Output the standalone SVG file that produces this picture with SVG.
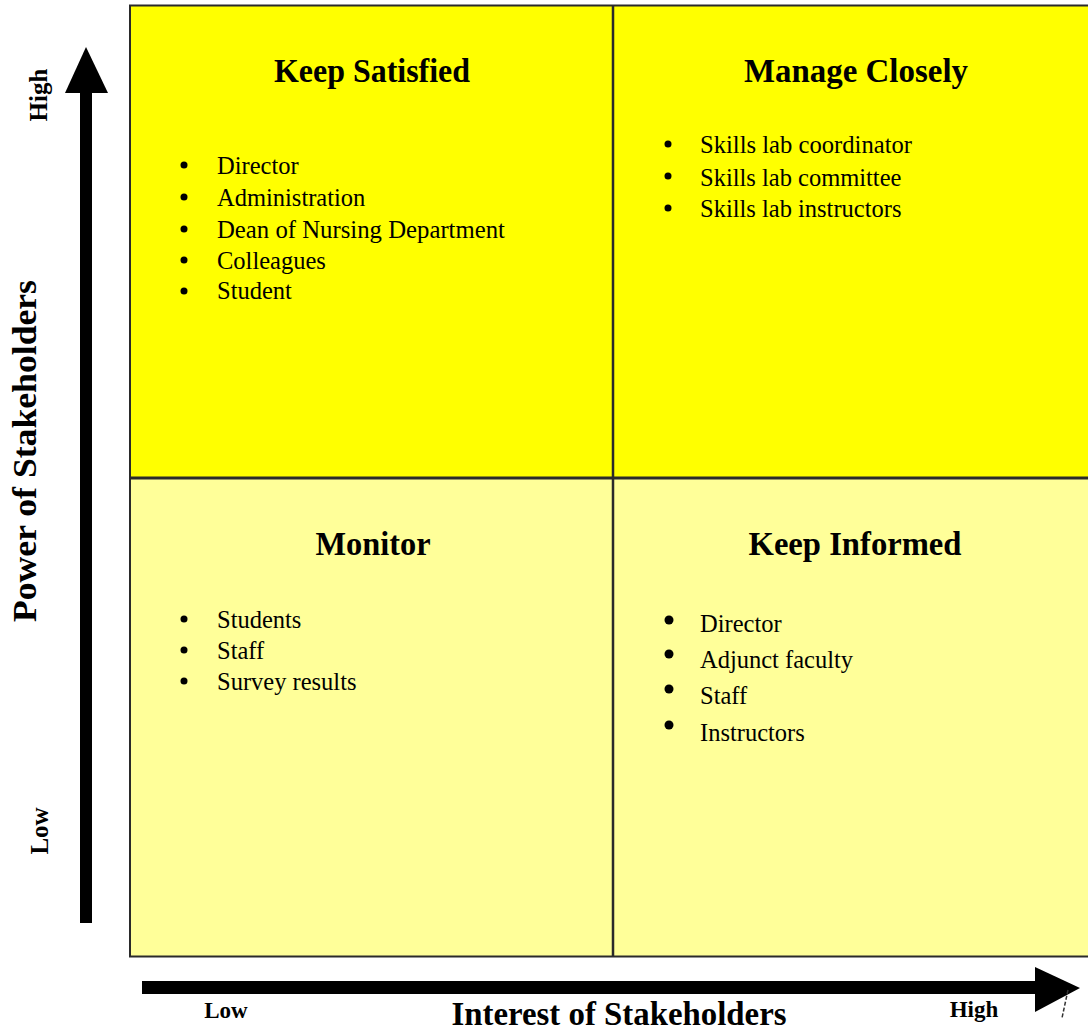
<svg xmlns="http://www.w3.org/2000/svg" width="1088" height="1034" viewBox="0 0 1088 1034">
<style>
text { font-family: "Liberation Serif", "Times New Roman", serif; fill: #000; }
.title { font-size: 33px; font-weight: bold; text-anchor: middle; }
.item { font-size: 24.5px; }
.axis { font-size: 33px; font-weight: bold; }
.tick { font-size: 25px; font-weight: bold; }
.hi { fill: #FFFF00; }
.lo { fill: #FFFF99; }
.bul { fill: #000; }
</style>
<rect width="1088" height="1034" fill="#fff"/>

<g id="keep-satisfied">
  <rect class="hi" x="130" y="5" width="483" height="473"/>
  <text class="title" x="372" y="82" textLength="196" lengthAdjust="spacingAndGlyphs">Keep Satisfied</text>
  <circle class="bul" cx="184" cy="165" r="3.5"/>
  <circle class="bul" cx="184" cy="197" r="3.5"/>
  <circle class="bul" cx="184" cy="229" r="3.5"/>
  <circle class="bul" cx="184" cy="260" r="3.5"/>
  <circle class="bul" cx="184" cy="291" r="3.5"/>
  <text class="item" x="217" y="174">Director</text>
  <text class="item" x="217" y="206">Administration</text>
  <text class="item" x="217" y="238" textLength="288" lengthAdjust="spacingAndGlyphs">Dean of Nursing Department</text>
  <text class="item" x="217" y="269">Colleagues</text>
  <text class="item" x="217" y="299">Student</text>
</g>

<g id="manage-closely">
  <rect class="hi" x="613" y="5" width="490" height="473"/>
  <text class="title" x="856" y="82" textLength="224" lengthAdjust="spacingAndGlyphs">Manage Closely</text>
  <circle class="bul" cx="668" cy="144" r="3.5"/>
  <circle class="bul" cx="668" cy="176" r="3.5"/>
  <circle class="bul" cx="668" cy="208" r="3.5"/>
  <text class="item" x="700" y="153" textLength="212" lengthAdjust="spacingAndGlyphs">Skills lab coordinator</text>
  <text class="item" x="700" y="186">Skills lab committee</text>
  <text class="item" x="700" y="217">Skills lab instructors</text>
</g>

<g id="monitor">
  <rect class="lo" x="130" y="478" width="483" height="479"/>
  <text class="title" x="373" y="555" textLength="115" lengthAdjust="spacingAndGlyphs">Monitor</text>
  <circle class="bul" cx="184" cy="619" r="3.5"/>
  <circle class="bul" cx="184" cy="650" r="3.5"/>
  <circle class="bul" cx="184" cy="681" r="3.5"/>
  <text class="item" x="217" y="628">Students</text>
  <text class="item" x="217" y="659">Staff</text>
  <text class="item" x="217" y="690">Survey results</text>
</g>

<g id="keep-informed">
  <rect class="lo" x="613" y="478" width="490" height="479"/>
  <text class="title" x="855" y="555" textLength="213" lengthAdjust="spacingAndGlyphs">Keep Informed</text>
  <circle class="bul" cx="669" cy="620" r="4.5"/>
  <circle class="bul" cx="669" cy="654" r="4.5"/>
  <circle class="bul" cx="669" cy="689" r="4.5"/>
  <circle class="bul" cx="669" cy="725" r="4.5"/>
  <text class="item" x="700" y="632">Director</text>
  <text class="item" x="700" y="668">Adjunct faculty</text>
  <text class="item" x="700" y="704">Staff</text>
  <text class="item" x="700" y="741">Instructors</text>
</g>

<g id="grid" fill="none" stroke="#2a2a2a">
  <rect x="130" y="5.5" width="975" height="951" stroke-width="2"/>
  <line x1="613" y1="5" x2="613" y2="957" stroke-width="2.5"/>
  <line x1="130" y1="478" x2="1100" y2="478" stroke-width="3"/>
</g>

<g id="connectors">
  <rect x="80" y="90" width="12" height="833" fill="#000"/>
  <polygon points="86,47 108,93 65,93" fill="#000"/>
  <rect x="142" y="981" width="896" height="13" fill="#000"/>
  <polygon points="1035,967 1080,988 1035,1012" fill="#000"/>
  <line x1="1068" y1="990" x2="1062" y2="1018" stroke="#333" stroke-width="1.5" stroke-dasharray="4,2"/>
</g>

<g id="axis-labels">
  <text class="axis" transform="translate(36,451) rotate(-90)" text-anchor="middle" textLength="342" lengthAdjust="spacingAndGlyphs">Power of Stakeholders</text>
  <text class="axis" x="619" y="1025" text-anchor="middle" textLength="335" lengthAdjust="spacingAndGlyphs">Interest of Stakeholders</text>
  <text class="tick" transform="translate(47,95) rotate(-90)" text-anchor="middle">High</text>
  <text class="tick" transform="translate(48,831) rotate(-90)" text-anchor="middle">Low</text>
  <text class="tick" x="226" y="1018" font-size="23" text-anchor="middle" style="font-size:23px">Low</text>
  <text class="tick" x="974" y="1017" text-anchor="middle" style="font-size:23px">High</text>
</g>
</svg>
